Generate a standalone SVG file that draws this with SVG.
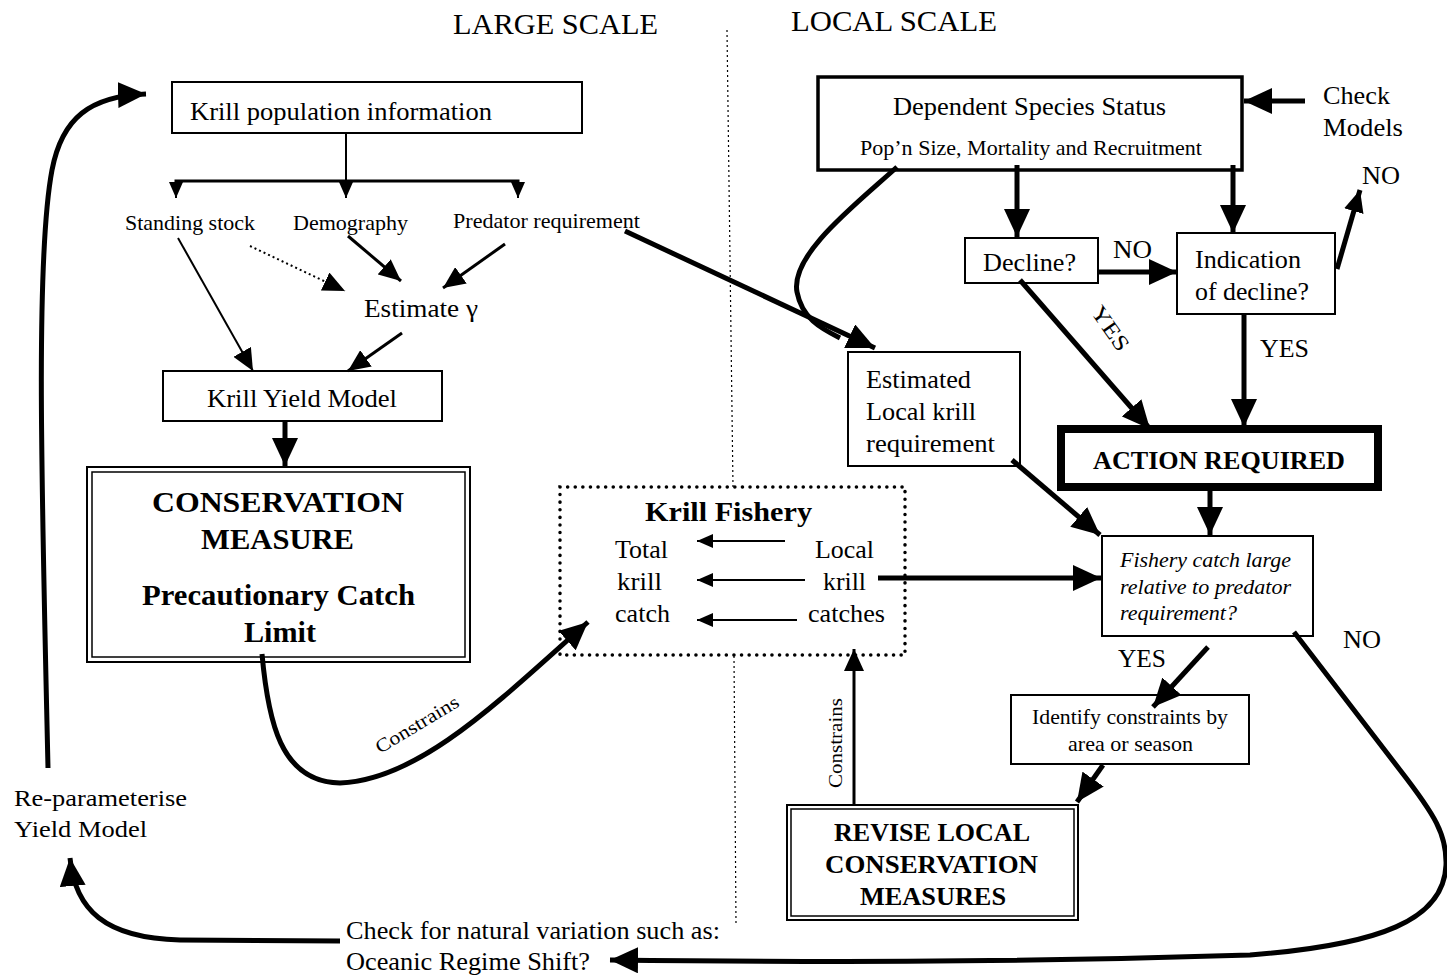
<svg xmlns="http://www.w3.org/2000/svg" width="1447" height="977" viewBox="0 0 1447 977">
<style>
text{font-family:"Liberation Serif","Times New Roman",serif;fill:#000}
.box{fill:#fff;stroke:#000;stroke-width:2}
.thk{fill:none;stroke:#000;stroke-width:5}
.med{fill:none;stroke:#000;stroke-width:3}
.thn{fill:none;stroke:#000;stroke-width:2}
.b{font-weight:bold}
</style>
<defs>
<marker id="ah" markerUnits="userSpaceOnUse" markerWidth="30" markerHeight="26" refX="28" refY="13" orient="auto"><path d="M0,0 L28,13 L0,26 Z" fill="#000"/></marker>
<marker id="am" markerUnits="userSpaceOnUse" markerWidth="24" markerHeight="20" refX="22" refY="10" orient="auto"><path d="M0,0 L22,10 L0,20 Z" fill="#000"/></marker>
<marker id="as" markerUnits="userSpaceOnUse" markerWidth="18" markerHeight="14" refX="16" refY="7" orient="auto"><path d="M0,0 L16,7 L0,14 Z" fill="#000"/></marker>
</defs>
<rect width="1447" height="977" fill="#fff"/>

<g id="titles">
<text x="453" y="34" font-size="29" textLength="205" lengthAdjust="spacingAndGlyphs">LARGE SCALE</text>
<text x="791" y="31" font-size="29" textLength="206" lengthAdjust="spacingAndGlyphs">LOCAL SCALE</text>
<line x1="727" y1="30" x2="733" y2="487" stroke="#000" stroke-width="1.2" stroke-dasharray="2,3"/>
<line x1="734" y1="656" x2="736" y2="925" stroke="#000" stroke-width="1.2" stroke-dasharray="2,3"/>
</g>

<g id="krill-pop-info">
<rect x="172" y="82" width="410" height="51" class="box"/>
<text x="190" y="120" font-size="26" textLength="302" lengthAdjust="spacingAndGlyphs">Krill population information</text>
</g>

<g id="standing-stock"><text x="125" y="230" font-size="21" textLength="130" lengthAdjust="spacingAndGlyphs">Standing stock</text></g>
<g id="demography"><text x="293" y="230" font-size="21" textLength="115" lengthAdjust="spacingAndGlyphs">Demography</text></g>
<g id="predator-requirement"><text x="453" y="228" font-size="21" textLength="187" lengthAdjust="spacingAndGlyphs">Predator requirement</text></g>
<g id="estimate-gamma"><text x="364" y="317" font-size="26" textLength="114" lengthAdjust="spacingAndGlyphs">Estimate γ</text></g>

<g id="krill-yield-model">
<rect x="163" y="371" width="279" height="50" class="box"/>
<text x="207" y="407" font-size="26" textLength="190" lengthAdjust="spacingAndGlyphs">Krill Yield Model</text>
</g>

<g id="conservation-measure">
<rect x="87" y="467" width="383" height="195" class="box"/>
<rect x="92" y="472" width="373" height="185" fill="none" stroke="#000" stroke-width="1.5"/>
<text x="152" y="512" font-size="30" class="b" textLength="252" lengthAdjust="spacingAndGlyphs">CONSERVATION</text>
<text x="201" y="549" font-size="30" class="b" textLength="153" lengthAdjust="spacingAndGlyphs">MEASURE</text>
<text x="142" y="605" font-size="30" class="b" textLength="273" lengthAdjust="spacingAndGlyphs">Precautionary Catch</text>
<text x="244" y="642" font-size="30" class="b" textLength="72" lengthAdjust="spacingAndGlyphs">Limit</text>
</g>

<g id="krill-fishery">
<rect x="560" y="487" width="345" height="168" fill="none" stroke="#000" stroke-width="3.5" stroke-dasharray="0.1,7.5" stroke-linecap="round"/>
<text x="645" y="521" font-size="28" class="b" textLength="167" lengthAdjust="spacingAndGlyphs">Krill Fishery</text>
<text x="615" y="558" font-size="25" textLength="53" lengthAdjust="spacingAndGlyphs">Total</text>
<text x="617" y="590" font-size="25" textLength="45" lengthAdjust="spacingAndGlyphs">krill</text>
<text x="615" y="622" font-size="25" textLength="55" lengthAdjust="spacingAndGlyphs">catch</text>
<text x="815" y="558" font-size="25" textLength="59" lengthAdjust="spacingAndGlyphs">Local</text>
<text x="823" y="590" font-size="25" textLength="43" lengthAdjust="spacingAndGlyphs">krill</text>
<text x="808" y="622" font-size="25" textLength="77" lengthAdjust="spacingAndGlyphs">catches</text>
</g>

<g id="constrains-1"><text x="0" y="0" font-size="19" textLength="94" lengthAdjust="spacingAndGlyphs" transform="translate(380,754) rotate(-31)">Constrains</text></g>
<g id="constrains-2"><text x="0" y="0" font-size="19" textLength="90" lengthAdjust="spacingAndGlyphs" transform="translate(842,788) rotate(-90)">Constrains</text></g>

<g id="re-parameterise">
<text x="14" y="806" font-size="24" textLength="173" lengthAdjust="spacingAndGlyphs">Re-parameterise</text>
<text x="14" y="837" font-size="24" textLength="133" lengthAdjust="spacingAndGlyphs">Yield Model</text>
</g>

<g id="natural-variation">
<text x="346" y="939" font-size="25" textLength="374" lengthAdjust="spacingAndGlyphs">Check for natural variation such as:</text>
<text x="346" y="970" font-size="25" textLength="244" lengthAdjust="spacingAndGlyphs">Oceanic Regime Shift?</text>
</g>

<g id="dependent-species">
<rect x="818" y="77" width="424" height="93" fill="#fff" stroke="#000" stroke-width="3.5"/>
<text x="893" y="115" font-size="26" textLength="273" lengthAdjust="spacingAndGlyphs">Dependent Species Status</text>
<text x="860" y="155" font-size="21" textLength="342" lengthAdjust="spacingAndGlyphs">Pop’n Size, Mortality and Recruitment</text>
</g>

<g id="check-models">
<text x="1323" y="104" font-size="26" textLength="67" lengthAdjust="spacingAndGlyphs">Check</text>
<text x="1323" y="136" font-size="26" textLength="80" lengthAdjust="spacingAndGlyphs">Models</text>
</g>
<g id="no-1"><text x="1362" y="184" font-size="25" textLength="38" lengthAdjust="spacingAndGlyphs">NO</text></g>

<g id="decline">
<rect x="965" y="238" width="133" height="45" class="box"/>
<text x="983" y="271" font-size="26" textLength="93" lengthAdjust="spacingAndGlyphs">Decline?</text>
</g>
<g id="no-2"><text x="1113" y="258" font-size="25" textLength="39" lengthAdjust="spacingAndGlyphs">NO</text></g>

<g id="indication">
<rect x="1177" y="233" width="158" height="81" class="box"/>
<text x="1195" y="268" font-size="26" textLength="106" lengthAdjust="spacingAndGlyphs">Indication</text>
<text x="1195" y="300" font-size="26" textLength="114" lengthAdjust="spacingAndGlyphs">of decline?</text>
</g>

<g id="yes-1"><text x="0" y="0" font-size="22" textLength="50" lengthAdjust="spacingAndGlyphs" transform="translate(1090,312) rotate(55)">YES</text></g>
<g id="yes-2"><text x="1260" y="357" font-size="25" textLength="49" lengthAdjust="spacingAndGlyphs">YES</text></g>

<g id="estimated-local">
<rect x="848" y="352" width="172" height="114" class="box"/>
<text x="866" y="388" font-size="26" textLength="105" lengthAdjust="spacingAndGlyphs">Estimated</text>
<text x="866" y="420" font-size="26" textLength="110" lengthAdjust="spacingAndGlyphs">Local krill</text>
<text x="866" y="452" font-size="26" textLength="129" lengthAdjust="spacingAndGlyphs">requirement</text>
</g>

<g id="action-required">
<rect x="1061" y="429" width="317" height="58" fill="#fff" stroke="#000" stroke-width="8"/>
<text x="1093" y="469" font-size="26" class="b" textLength="252" lengthAdjust="spacingAndGlyphs">ACTION REQUIRED</text>
</g>

<g id="fishery-catch">
<rect x="1102" y="536" width="211" height="100" class="box"/>
<text x="1120" y="567" font-size="21" font-style="italic" textLength="171" lengthAdjust="spacingAndGlyphs">Fishery catch large</text>
<text x="1120" y="594" font-size="21" font-style="italic" textLength="171" lengthAdjust="spacingAndGlyphs">relative to predator</text>
<text x="1120" y="620" font-size="21" font-style="italic" textLength="117" lengthAdjust="spacingAndGlyphs">requirement?</text>
</g>
<g id="no-3"><text x="1343" y="648" font-size="25" textLength="38" lengthAdjust="spacingAndGlyphs">NO</text></g>
<g id="yes-3"><text x="1118" y="667" font-size="25" textLength="48" lengthAdjust="spacingAndGlyphs">YES</text></g>

<g id="identify-constraints">
<rect x="1011" y="695" width="238" height="69" class="box"/>
<text x="1032" y="724" font-size="21" textLength="196" lengthAdjust="spacingAndGlyphs">Identify constraints by</text>
<text x="1068" y="751" font-size="21" textLength="125" lengthAdjust="spacingAndGlyphs">area or season</text>
</g>

<g id="revise-local">
<rect x="787" y="805" width="291" height="115" class="box"/>
<rect x="791" y="809" width="283" height="107" fill="none" stroke="#000" stroke-width="1.5"/>
<text x="834" y="841" font-size="26" class="b" textLength="196" lengthAdjust="spacingAndGlyphs">REVISE LOCAL</text>
<text x="825" y="873" font-size="26" class="b" textLength="213" lengthAdjust="spacingAndGlyphs">CONSERVATION</text>
<text x="860" y="905" font-size="26" class="b" textLength="146" lengthAdjust="spacingAndGlyphs">MEASURES</text>
</g>

<g id="connectors">
<line x1="346" y1="133" x2="346" y2="181" class="thn"/>
<polyline points="176,184 176,181 518,181 518,184" class="med"/>
<line x1="176" y1="181" x2="176" y2="198" class="thn" marker-end="url(#as)"/>
<line x1="346" y1="181" x2="346" y2="198" class="thn" marker-end="url(#as)"/>
<line x1="518" y1="181" x2="518" y2="198" class="thn" marker-end="url(#as)"/>
<line x1="250" y1="246" x2="345" y2="291" stroke="#000" stroke-width="2" stroke-dasharray="2,3" marker-end="url(#am)"/>
<line x1="348" y1="236" x2="401" y2="281" class="med" marker-end="url(#am)"/>
<line x1="505" y1="244" x2="443" y2="288" class="med" marker-end="url(#am)"/>
<line x1="178" y1="238" x2="253" y2="371" class="thn" marker-end="url(#am)"/>
<line x1="402" y1="333" x2="348" y2="371" class="med" marker-end="url(#am)"/>
<line x1="285" y1="421" x2="285" y2="466" class="thk" marker-end="url(#ah)"/>
<line x1="625" y1="231" x2="875" y2="348" class="thk" marker-end="url(#ah)"/>
<path d="M897,167 C855,205 790,255 797,292 C802,318 820,328 840,338" class="thk"/>
<line x1="1305" y1="101" x2="1244" y2="101" class="thk" marker-end="url(#ah)"/>
<line x1="1017" y1="165" x2="1017" y2="237" class="thk" marker-end="url(#ah)"/>
<line x1="1233" y1="165" x2="1233" y2="233" class="thk" marker-end="url(#ah)"/>
<line x1="1098" y1="272" x2="1177" y2="272" class="thk" marker-end="url(#ah)"/>
<line x1="1337" y1="269" x2="1360" y2="190" class="thk" marker-end="url(#am)"/>
<line x1="1020" y1="280" x2="1150" y2="429" class="thk" marker-end="url(#ah)"/>
<line x1="1244" y1="314" x2="1244" y2="427" class="thk" marker-end="url(#ah)"/>
<line x1="1012" y1="460" x2="1100" y2="535" class="thk" marker-end="url(#ah)"/>
<line x1="1210" y1="490" x2="1210" y2="535" class="thk" marker-end="url(#ah)"/>
<line x1="878" y1="578" x2="1101" y2="578" class="thk" marker-end="url(#ah)"/>
<line x1="1208" y1="647" x2="1153" y2="707" class="thk" marker-end="url(#ah)"/>
<line x1="1103" y1="765" x2="1077" y2="802" class="thk" marker-end="url(#ah)"/>
<line x1="854" y1="805" x2="854" y2="649" class="med" marker-end="url(#am)"/>
<line x1="785" y1="541" x2="697" y2="541" class="thn" marker-end="url(#as)"/>
<line x1="805" y1="580" x2="697" y2="580" class="thn" marker-end="url(#as)"/>
<line x1="797" y1="620" x2="697" y2="620" class="thn" marker-end="url(#as)"/>
<path d="M262,654 C268,720 280,782 340,783 C420,780 500,700 588,622" class="thk" marker-end="url(#ah)"/>
<path d="M1294,632 L1400,770 C1435,815 1447,835 1446,865 C1444,920 1380,945 1250,955 C1000,963 800,962 610,960" class="thk" marker-end="url(#ah)"/>
<path d="M340,941 L180,940 C105,938 75,910 70,858" class="thk" marker-end="url(#ah)"/>
<path d="M48,768 C42,500 35,260 52,170 C62,118 90,96 146,94" class="thk" marker-end="url(#ah)"/>
</g>
</svg>
